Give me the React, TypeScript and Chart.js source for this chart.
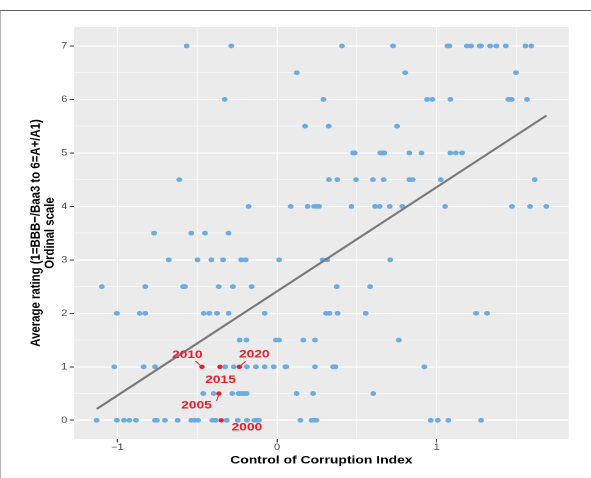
import React, { useEffect, useRef } from 'react';
import { Chart, registerables } from 'chart.js';

Chart.register(...registerables);

// ---- data (Control of Corruption Index per average-rating level) ----
const ratingLevels = [7, 6.5, 6, 5.5, 5, 4.5, 4, 3.5, 3, 2.5, 2, 1.5, 1, 0.5, 0];

const cci_r70 = [-0.566, -0.286, 0.407, 0.727, 1.068, 1.080, 1.189, 1.216, 1.270, 1.278, 1.335, 1.374, 1.433, 1.556, 1.593];
const cci_r65 = [0.124, 0.803, 1.497];
const cci_r60 = [-0.328, 0.291, 0.940, 0.973, 1.086, 1.449, 1.460, 1.470, 1.566];
const cci_r55 = [0.176, 0.324, 0.752];
const cci_r50 = [0.477, 0.487, 0.647, 0.659, 0.672, 0.829, 0.905, 1.086, 1.120, 1.159];
const cci_r45 = [-0.612, 0.326, 0.378, 0.495, 0.601, 0.668, 0.829, 0.850, 1.026, 1.614];
const cci_r40 = [-0.178, 0.086, 0.192, 0.232, 0.249, 0.263, 0.466, 0.614, 0.643, 0.706, 0.785, 1.053, 1.472, 1.585, 1.687];
const cci_r35 = [-0.770, -0.537, -0.451, -0.304];
const cci_r30 = [-0.678, -0.498, -0.411, -0.338, -0.224, -0.196, 0.013, 0.286, 0.315, 0.709];
const cci_r25 = [-1.097, -0.825, -0.588, -0.576, -0.365, -0.276, -0.159, 0.374, 0.583];
const cci_r20 = [-1.003, -0.860, -0.825, -0.459, -0.424, -0.376, -0.303, -0.077, 0.307, 0.329, 0.380, 0.556, 1.247, 1.316];
const cci_r15 = [-0.234, -0.191, -0.008, 0.013, 0.165, 0.238, 0.763];
const cci_r10 = [-1.019, -0.835, -0.764, -0.324, -0.271, -0.189, -0.132, -0.077, -0.020, 0.052, 0.058, 0.238, 0.352, 0.366, 0.923];
const cci_r05 = [-0.462, -0.397, -0.280, -0.240, -0.228, -0.215, -0.203, -0.190, 0.123, 0.226, 0.603];
const cci_r00 = [-1.130, -1.003, -0.959, -0.925, -0.883, -0.764, -0.752, -0.702, -0.622, -0.537, -0.516, -0.495, -0.405, -0.384, -0.315, -0.246, -0.188, -0.142, -0.125, -0.113, 0.146, 0.217, 0.232, 0.246, 0.963, 1.007, 1.073, 1.278];

const cciByRating = [cci_r70, cci_r65, cci_r60, cci_r55, cci_r50, cci_r45, cci_r40, cci_r35, cci_r30, cci_r25, cci_r20, cci_r15, cci_r10, cci_r05, cci_r00];

// highlighted country-years (red)
const highlightYears = ['2000', '2005', '2010', '2015', '2020'];
const highlightCCI = [-0.349, -0.364, -0.470, -0.357, -0.236];
const highlightRating = [0, 0.5, 1, 1, 1];

// fitted line end points
const fitCCI = [-1.129, 1.688];
const fitRating = [0.212, 5.70];

// axis ticks
const xTickValues = [-1, 0, 1];
const xTickLabels = ['\u22121', '0', '1'];
const yTickValues = [0, 1, 2, 3, 4, 5, 6, 7];
const yTickLabels = ['0', '1', '2', '3', '4', '5', '6', '7'];

const xTitle = 'Control of Corruption Index';
const yTitle = ['Average rating (1=BBB\u2212/Baa3 to 6=A+/A1)', 'Ordinal scale'];

// ---- styling / layout ----
const CANVAS_W = 484; // logical width, stretched to 591px on screen
const CANVAS_H = 478;
const BLUE = '#6cace2';
const RED = '#e8202a';
const FONT = "'Liberation Sans', Arial, Helvetica, sans-serif";

const labelStyle: Record<string, { dx: number; dy: number; seg?: number[] }> = {
  '2000': { dx: 21, dy: 7.3 },
  '2005': { dx: -18.3, dy: 11.7, seg: [-1.9, 7.2, -0.4, 2.2] },
  '2010': { dx: -12, dy: -11.7, seg: [-5.3, -5.8, -1.6, -1.6] },
  '2015': { dx: 0.4, dy: 13.3 },
  '2020': { dx: 12.3, dy: -12.4, seg: [5.3, -5.8, 1.6, -1.6] },
};

const isMajor = (v: number | undefined) => v !== undefined && Math.abs(v - Math.round(v)) < 1e-6;

const panelBg = {
  id: 'panelBg',
  beforeDraw(chart: any) {
    const { ctx, chartArea } = chart;
    ctx.save();
    ctx.fillStyle = '#ebebeb';
    ctx.fillRect(chartArea.left, chartArea.top, chartArea.right - chartArea.left, chartArea.bottom - chartArea.top);
    ctx.restore();
  },
};

const yearLabels = {
  id: 'yearLabels',
  afterDatasetsDraw(chart: any) {
    const { ctx } = chart;
    const xs = chart.scales.x;
    const ys = chart.scales.y;
    ctx.save();
    ctx.fillStyle = RED;
    ctx.strokeStyle = RED;
    ctx.lineWidth = 0.9;
    ctx.font = `bold 11.3px ${FONT}`;
    ctx.textAlign = 'center';
    ctx.textBaseline = 'middle';
    highlightYears.forEach((yr, i) => {
      const px = xs.getPixelForValue(highlightCCI[i]);
      const py = ys.getPixelForValue(highlightRating[i]);
      const st = labelStyle[yr];
      if (st.seg) {
        ctx.beginPath();
        ctx.moveTo(px + st.seg[0], py + st.seg[1]);
        ctx.lineTo(px + st.seg[2], py + st.seg[3]);
        ctx.stroke();
      }
      ctx.fillText(yr, px + st.dx, py + st.dy);
    });
    ctx.restore();
  },
};

export default function App() {
  const canvasRef = useRef<HTMLCanvasElement | null>(null);

  useEffect(() => {
    if (!canvasRef.current) return;
    Chart.defaults.font.family = FONT;

    const bluePoints: { x: number; y: number }[] = [];
    cciByRating.forEach((row, i) => row.forEach((x) => bluePoints.push({ x, y: ratingLevels[i] })));
    const redPoints = highlightCCI.map((x, i) => ({ x, y: highlightRating[i] }));
    const fitPoints = fitCCI.map((x, i) => ({ x, y: fitRating[i] }));

    const chart = new Chart(canvasRef.current, {
      type: 'scatter',
      data: {
        datasets: [
          {
            label: 'highlight',
            data: redPoints,
            order: 0,
            pointRadius: 2.2,
            pointBackgroundColor: RED,
            pointBorderWidth: 0,
            borderColor: RED,
            backgroundColor: RED,
          },
          {
            label: 'fit',
            data: fitPoints,
            order: 1,
            showLine: true,
            pointRadius: 0,
            borderColor: '#7a7a7a',
            borderWidth: 2,
            backgroundColor: '#7a7a7a',
          } as any,
          {
            label: 'countries',
            data: bluePoints,
            order: 2,
            pointRadius: 2.4,
            pointBackgroundColor: BLUE,
            pointBorderWidth: 0,
            borderColor: BLUE,
            backgroundColor: BLUE,
          },
        ],
      },
      options: {
        responsive: false,
        animation: false,
        devicePixelRatio: 2,
        layout: { padding: { left: 0, top: 27, right: 18.2, bottom: 0 } },
        plugins: { legend: { display: false }, tooltip: { enabled: false } },
        scales: {
          x: {
            type: 'linear',
            min: -1.2714,
            max: 1.8277,
            afterFit: (s: any) => { s.height = 39; },
            border: { display: false },
            grid: {
              color: '#ffffff',
              lineWidth: (c: any) => (isMajor(c.tick?.value) ? 0.95 : 0.45),
              drawTicks: true,
              tickLength: 3.5,
              tickColor: (c: any) => (isMajor(c.tick?.value) ? '#333333' : 'rgba(0,0,0,0)'),
              tickWidth: (c: any) => (isMajor(c.tick?.value) ? 0.9 : 0),
            },
            ticks: {
              stepSize: 0.5,
              includeBounds: false,
              autoSkip: false,
              maxRotation: 0,
              padding: 0.5,
              color: '#4d4d4d',
              font: { size: 9, lineHeight: 1 },
              callback: (v: any) => {
                const k = xTickValues.findIndex((t) => Math.abs(t - Number(v)) < 1e-6);
                return k >= 0 ? xTickLabels[k] : '';
              },
            },
            title: {
              display: true,
              text: xTitle,
              color: '#000000',
              font: { size: 11.4, weight: 'bold', lineHeight: 1.03 },
              padding: { top: 0, bottom: 12 },
            },
          },
          y: {
            type: 'linear',
            min: -0.35,
            max: 7.355,
            afterFit: (s: any) => { s.width = 60.6; },
            border: { display: false },
            grid: {
              color: '#ffffff',
              lineWidth: (c: any) => (isMajor(c.tick?.value) ? 1.1 : 0.55),
              drawTicks: true,
              tickLength: 3.5,
              tickColor: (c: any) => (isMajor(c.tick?.value) ? '#333333' : 'rgba(0,0,0,0)'),
              tickWidth: (c: any) => (isMajor(c.tick?.value) ? 1 : 0),
            },
            ticks: {
              stepSize: 0.5,
              includeBounds: false,
              autoSkip: false,
              padding: 2,
              color: '#4d4d4d',
              font: { size: 9, lineHeight: 1 },
              callback: (v: any) => {
                const k = yTickValues.findIndex((t) => Math.abs(t - Number(v)) < 1e-6);
                return k >= 0 ? yTickLabels[k] : '';
              },
            },
            title: {
              display: true,
              text: yTitle,
              color: '#000000',
              font: { size: 11.4, weight: 'bold', lineHeight: 1.03 },
              padding: { top: 23.4, bottom: 0 },
            },
          },
        },
      } as any,
      plugins: [panelBg, yearLabels],
    });
    return () => chart.destroy();
  }, []);

  return (
    <div style={{ position: 'absolute', left: 0, top: 0, width: 591, height: 478, background: '#ffffff' }}>
      <canvas
        ref={canvasRef}
        width={CANVAS_W}
        height={CANVAS_H}
        style={{ position: 'absolute', left: 0, top: 0, width: '591px', height: '478px' }}
      />
      <div style={{ position: 'absolute', left: 0, top: 10, width: 591, height: 1.3, background: '#5e5e5e' }} />
      <div style={{ position: 'absolute', left: 0, top: 11, width: 1.3, height: 467, background: '#b4b4b4' }} />
    </div>
  );
}
